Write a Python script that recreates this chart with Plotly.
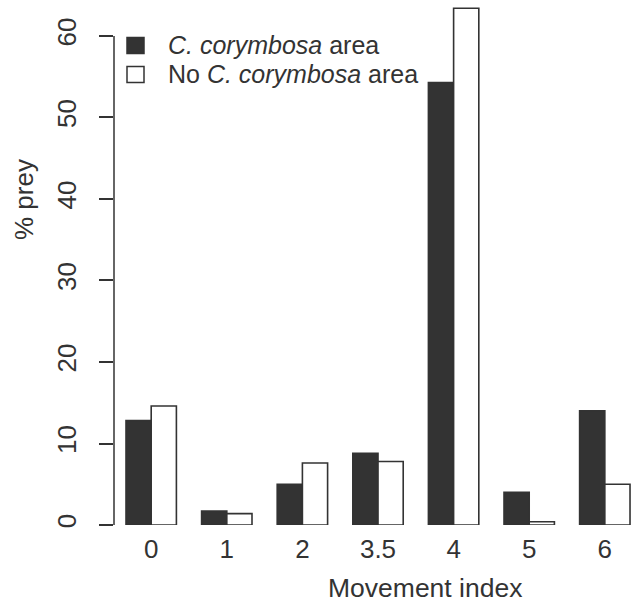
import plotly.graph_objects as go

categories = ["0", "1", "2", "3.5", "4", "5", "6"]
with_cc = [12.8, 1.7, 5.0, 8.8, 54.3, 4.0, 14.0]
without_cc = [14.6, 1.4, 7.6, 7.8, 63.4, 0.4, 5.0]
y_ticks = [0, 10, 20, 30, 40, 50, 60]
legend_labels = ["<i>C. corymbosa</i> area", "No <i>C. corymbosa</i> area"]

W, H = 634, 607
ML, MR, MT, MB = 114, 0, 5, 82
PW, PH = W - ML - MR, H - MT - MB
INK = "#333333"
FONT = "Liberation Sans, Arial, Helvetica, sans-serif"


def px(x):
    return (x - ML) / PW


def py(y):
    return (H - MB - y) / PH


fig = go.Figure()
fig.add_trace(go.Bar(x=categories, y=with_cc, name=legend_labels[0],
                     marker=dict(color=INK, line=dict(color=INK, width=1.6)),
                     showlegend=False))
fig.add_trace(go.Bar(x=categories, y=without_cc, name=legend_labels[1],
                     marker=dict(color="white", line=dict(color=INK, width=1.6)),
                     showlegend=False))

shapes = [
    # y axis line (spans 0..60 only, R style)
    dict(type="line", xref="paper", yref="y", x0=0, x1=0, y0=y_ticks[0], y1=y_ticks[-1],
         line=dict(color=INK, width=1.5)),
    # legend keys
    dict(type="rect", xref="paper", yref="paper", x0=px(127), x1=px(144), y0=py(37.5), y1=py(53.5),
         fillcolor=INK, line=dict(color=INK, width=1.5)),
    dict(type="rect", xref="paper", yref="paper", x0=px(127), x1=px(144), y0=py(66.5), y1=py(82.5),
         fillcolor="white", line=dict(color=INK, width=1.5)),
]

annotations = [
    dict(text=legend_labels[0], xref="paper", yref="paper", x=px(166), y=py(45),
         xanchor="left", yanchor="middle", showarrow=False, font=dict(size=25, color=INK, family=FONT)),
    dict(text=legend_labels[1], xref="paper", yref="paper", x=px(166), y=py(74),
         xanchor="left", yanchor="middle", showarrow=False, font=dict(size=25, color=INK, family=FONT)),
    dict(text="% prey", xref="paper", yref="paper", x=px(24), y=py(200), textangle=-90,
         xanchor="center", yanchor="middle", showarrow=False, font=dict(size=26, color=INK, family=FONT)),
    dict(text="Movement index", xref="paper", yref="paper", x=px(425), y=py(588),
         xanchor="center", yanchor="middle", showarrow=False, font=dict(size=26.5, color=INK, family=FONT)),
]

fig.update_layout(
    width=W, height=H,
    margin=dict(l=ML, r=MR, t=MT, b=MB),
    paper_bgcolor="white", plot_bgcolor="white",
    barmode="group", bargap=1/3, bargroupgap=0,
    font=dict(family=FONT, size=26, color=INK),
    shapes=shapes, annotations=annotations,
    showlegend=False,
    xaxis=dict(type="category", range=[-0.492, 6.386], showgrid=False, zeroline=False,
               showline=False, ticks="", ticklabelstandoff=6,
               tickfont=dict(size=26, color=INK, family=FONT)),
    yaxis=dict(range=[0, 63.8], showgrid=False, zeroline=False, showline=False,
               tickmode="array", tickvals=y_ticks, ticktext=[str(v) for v in y_ticks],
               ticks="outside", ticklen=14, tickwidth=1.5, tickcolor=INK,
               tickangle=-90, ticklabelstandoff=13,
               tickfont=dict(size=26, color=INK, family=FONT)),
)

fig.write_html("out.html", config={"displayModeBar": False},
               post_script="document.body.style.margin='0';document.body.style.overflow='hidden';")
